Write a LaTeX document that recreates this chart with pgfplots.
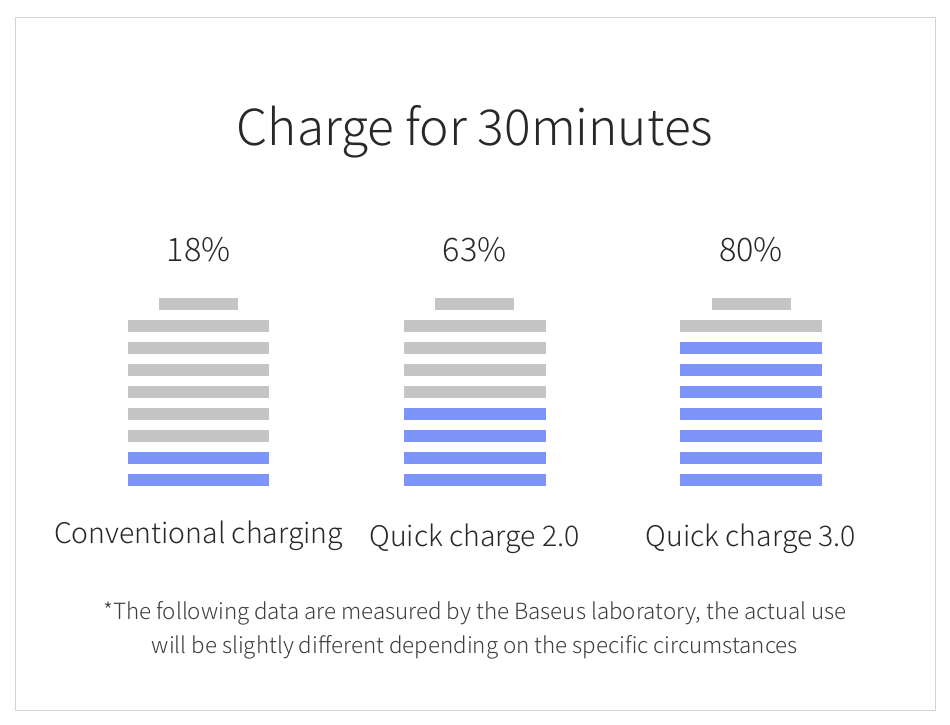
\documentclass[border=0pt]{standalone}
\usepackage{fontspec}
\setmainfont{Noto Sans CJK SC Light}
\usepackage{pgfplots}
\usepackage{pgfplotstable}
\pgfplotsset{compat=1.18}
\definecolor{stripegray}{RGB}{197,197,197}
\definecolor{stripeblue}{RGB}{125,148,250}
\definecolor{txt}{RGB}{40,40,40}
\definecolor{framegray}{RGB}{212,212,212}
\pgfdeclareplotmark{stripe}{\pgfpathrectangle{\pgfpoint{-70.8pt}{-5.85pt}}{\pgfpoint{141.6pt}{11.7pt}}\pgfusepathqfill}
\pgfdeclareplotmark{cap}{\pgfpathrectangle{\pgfpoint{-39.5pt}{-5.85pt}}{\pgfpoint{79pt}{11.7pt}}\pgfusepathqfill}
% charged stripes (blue): battery index, stripe level
\pgfplotstableread{
b level
0 1
0 2
1 1
1 2
1 3
1 4
2 1
2 2
2 3
2 4
2 5
2 6
2 7
}\charged
% empty stripes (gray)
\pgfplotstableread{
b level
0 3
0 4
0 5
0 6
0 7
0 8
1 5
1 6
1 7
1 8
2 8
}\empty
\begin{document}
\begin{tikzpicture}
\begin{axis}[
  width=950pt, height=724pt, scale only axis,
  xmin=-0.719, xmax=2.7205,
  ymin=-10.077, ymax=22.832,
  axis lines=none, clip=false,
  nodes near coords align={anchor=base},
]
\path (rel axis cs:0,0) rectangle (rel axis cs:1,1);
\draw[framegray, line width=1.5pt] (rel axis cs:0.01632,0.97583) rectangle (rel axis cs:0.98474,0.018646);
\addplot[only marks, mark=stripe, color=stripeblue] table[x=b, y=level] {\charged};
\addplot[only marks, mark=stripe, color=stripegray] table[x=b, y=level] {\empty};
\addplot[only marks, mark=cap, color=stripegray,
  point meta=explicit symbolic, nodes near coords,
  every node near coord/.append style={text=txt, font=\fontsize{32.4}{38}\selectfont, yshift=43pt, inner sep=0pt}]
  coordinates {(0,9)[18\%] (1,9)[63\%] (2,9)[80\%]};
\node[anchor=base, text=txt, font=\fontsize{49.6}{58}\selectfont, inner sep=0pt] at (axis cs:1.0007,16.24) {Charge for 30minutes};
\node[anchor=base, text=txt, font=\fontsize{28.4}{34}\selectfont, inner sep=0pt] at (axis cs:0,-1.85) {Conventional charging};
\node[anchor=base, text=txt, font=\fontsize{28.4}{34}\selectfont, inner sep=0pt] at (axis cs:1,-2.0) {Quick charge 2.0};
\node[anchor=base, text=txt, font=\fontsize{28.4}{34}\selectfont, inner sep=0pt] at (axis cs:2,-2.0) {Quick charge 3.0};
\node[anchor=base, text=txt!90, font=\fontsize{22.35}{34}\selectfont, inner sep=0pt, align=center] at (axis cs:1.0007,-6.85) {*The following data are measured by the Baseus laboratory, the actual use\\will be slightly different depending on the specific circumstances};
\end{axis}
\end{tikzpicture}
\end{document}
